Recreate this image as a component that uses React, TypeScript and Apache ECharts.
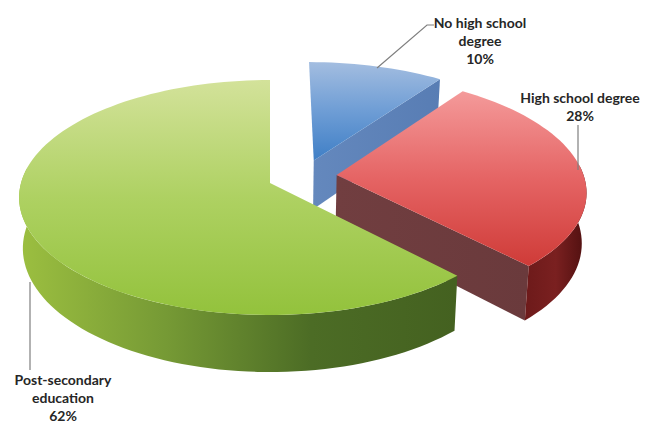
import React, { useEffect, useRef } from "react";
import * as echarts from "echarts";

// Education shares, in percent, clockwise from twelve o'clock.
const categories = ["No high school\ndegree", "High school degree", "Post-secondary\neducation"];
const shares = [10, 28, 62];

// Tilted disc: a point (u, v) on the unit disc is drawn with a mild perspective.
const disc = { cx: 270, cy: 183, a: 249, b: 115.7, k: 0.1235, height: 50, baseScale: 0.985 };
const explode = [
  [0.18, -0.2],
  [0.27, -0.07],
  [0, 0],
];

const labelAnchors = [
  [480, 40],
  [580, 106],
  [63, 397],
];
const leaders = [
  [[377, 68], [427, 25], [434, 25]],
  [[578, 170], [578, 125]],
  [[30, 282], [30, 370]],
];

const v = (c: string[]) => c.map((color, i) => ({ offset: i / (c.length - 1), color }));
const topFills = [
  ["#a3bde0", "#6e9dd5", "#3f7fc6"],
  ["#f49a9a", "#e56464", "#cf3b38"],
  ["#d3e29a", "#aed162", "#93c23c"],
];
const rimFills = [
  ["#4f79b4", "#4f79b4"],
  ["#6d1a1a", "#7a2020", "#4e0f0f"],
  ["#9cbf40", "#769a35", "#4c6c25", "#446120"],
];
const wallFills = [
  ["#6488bd", "#587db4"],
  ["#713e40", "#6a3a3c"],
  ["#446120", "#446120"],
];

const RIM_FROM = (85 * Math.PI) / 180;
const RIM_TO = (278 * Math.PI) / 180;

function project(u: number, w: number, sink: boolean): number[] {
  const d = 1 - disc.k * w;
  const spread = sink ? disc.baseScale : 1;
  return [
    disc.cx + ((disc.a * u) / d) * spread,
    disc.cy + (disc.b * w) / d + (sink ? disc.height / d : 0),
  ];
}

function arcPoints(from: number, to: number, off: number[], sink: boolean): number[][] {
  const steps = Math.max(2, Math.ceil(((to - from) * 180) / Math.PI / 2));
  const pts: number[][] = [];
  for (let i = 0; i <= steps; i++) {
    const t = from + ((to - from) * i) / steps;
    pts.push(project(Math.sin(t) + off[0], -Math.cos(t) + off[1], sink));
  }
  return pts;
}

function renderSlice(params: any, api: any) {
  const i = params.dataIndex;
  const total = shares.reduce((s, x) => s + x, 0);
  const before = shares.slice(0, i).reduce((s, x) => s + x, 0);
  const a0 = (before / total) * Math.PI * 2;
  const a1 = a0 + (api.value(1) / total) * Math.PI * 2;
  const off = explode[i];
  const children: any[] = [];

  // Far wall of the cut, then the outer rim, then the top face over both.
  const endU = Math.sin(a1);
  const endV = -Math.cos(a1);
  children.push({
    type: "polygon",
    shape: {
      points: [
        project(off[0], off[1], false),
        project(endU + off[0], endV + off[1], false),
        project(endU + off[0], endV + off[1], true),
        project(off[0], off[1], true),
      ],
    },
    style: { fill: new echarts.graphic.LinearGradient(0, 0, 1, 0, v(wallFills[i])) },
  });

  const rim0 = Math.max(a0, RIM_FROM);
  const rim1 = Math.min(a1, RIM_TO);
  if (rim1 > rim0) {
    children.push({
      type: "polygon",
      shape: {
        points: [...arcPoints(rim0, rim1, off, false), ...arcPoints(rim0, rim1, off, true).reverse()],
      },
      style: { fill: new echarts.graphic.LinearGradient(0, 0, 1, 0, v(rimFills[i])) },
    });
  }

  children.push({
    type: "polygon",
    shape: { points: [project(off[0], off[1], false), ...arcPoints(a0, a1, off, false)] },
    style: { fill: new echarts.graphic.LinearGradient(0, 0, 0, 1, v(topFills[i])) },
  });

  children.push({
    type: "polyline",
    shape: { points: leaders[i] },
    style: { stroke: "#7f7f7f", lineWidth: 1.2, fill: "none" },
  });
  children.push({
    type: "text",
    x: labelAnchors[i][0],
    y: labelAnchors[i][1],
    style: {
      text: `${categories[i]}\n${api.value(1)}%`,
      fill: "#262626",
      font: 'bold 14px Lato, "Open Sans", sans-serif',
      lineHeight: 18,
      align: "center",
      verticalAlign: "middle",
    },
  });

  return { type: "group", children };
}

export default function App() {
  const ref = useRef<HTMLDivElement>(null);

  useEffect(() => {
    const chart = echarts.init(ref.current!, undefined, { renderer: "svg" });
    chart.setOption({
      animation: false,
      backgroundColor: "#ffffff",
      series: [
        {
          type: "custom",
          coordinateSystem: "none",
          silent: true,
          renderItem: renderSlice,
          data: shares.map((s, i) => [i, s]),
        },
      ],
    });
    return () => chart.dispose();
  }, []);

  return <div ref={ref} style={{ position: "fixed", left: 0, top: 0, width: 654, height: 423 }} />;
}
